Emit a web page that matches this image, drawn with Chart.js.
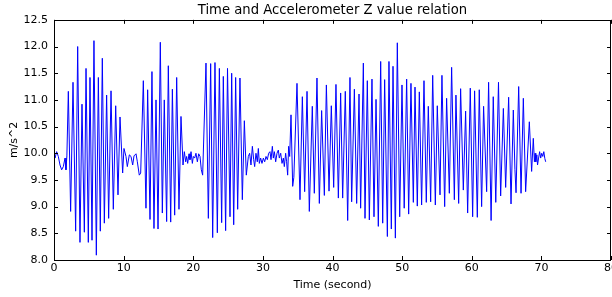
<!DOCTYPE html>
<html>
<head>
<meta charset="utf-8">
<script src="https://cdn.jsdelivr.net/npm/chart.js@4.4.1/dist/chart.umd.min.js"></script>
<style>
    html, body { margin: 0; padding: 0; background: #fff; overflow: hidden; }
    canvas { display: block; }
</style>
</head>
<body>
<canvas id="accelChart" width="612" height="297"></canvas>
<script>
// Time (s) and accelerometer Z (m/s^2)
const times = [
    0.00, 0.15, 0.38, 0.62, 0.86, 1.10, 1.34, 1.58, 1.72, 1.85,
    2.06, 2.39, 2.73, 3.11, 3.40, 3.73, 4.02, 4.36, 4.60, 4.93,
    5.17, 5.46, 5.74, 6.08, 6.37, 6.65, 6.94, 7.23, 7.56, 7.85,
    8.19, 8.52, 8.86, 9.19, 9.48, 9.86,
    10.05, 10.34, 10.53, 10.82, 11.06, 11.30, 11.49, 11.78, 11.97, 12.25, 12.45,
    12.83, 13.21, 13.45, 13.79, 14.07, 14.36, 14.65, 14.94, 15.27, 15.56,
    15.84, 16.18, 16.42, 16.76, 17.00, 17.33, 17.62, 17.95, 18.24, 18.53,
    18.72, 18.91, 19.05, 19.20, 19.39, 19.53, 19.68, 19.87, 20.01, 20.20,
    20.39, 20.59, 20.78, 20.97, 21.16, 21.35,
    21.83, 22.17, 22.50, 22.79, 23.12, 23.46, 23.75, 24.08, 24.32, 24.65,
    24.92, 25.28, 25.52, 25.81, 26.09, 26.38, 26.71, 27.05, 27.34, 27.62,
    27.91, 28.10, 28.29, 28.49, 28.68, 28.82, 29.01, 29.20, 29.35, 29.49,
    29.68, 29.87, 30.07, 30.26, 30.45, 30.64, 30.83, 31.02, 31.17, 31.36,
    31.50, 31.65, 31.84, 32.03, 32.22, 32.36, 32.56, 32.75, 32.94, 33.08,
    33.27, 33.41, 33.56, 33.70, 33.85,
    34.04, 34.28, 34.45, 34.90, 35.33, 35.67, 36.00, 36.34, 36.67, 37.10,
    37.39, 37.77, 38.11, 38.44, 38.83, 39.12, 39.50, 39.83, 40.17, 40.50,
    40.84, 41.17, 41.46, 41.84, 42.18, 42.51, 42.75, 43.14, 43.47, 43.81,
    44.04, 44.43, 44.67, 45.00, 45.29, 45.67, 45.96, 46.25, 46.58, 46.92,
    47.21, 47.49, 47.88, 48.11, 48.45, 48.69, 49.03, 49.31, 49.65, 49.98,
    50.30, 50.65, 50.94, 51.27, 51.61, 51.85, 52.18, 52.47, 52.80, 53.14,
    53.47, 53.76, 54.10, 54.39, 54.77, 55.05, 55.44, 55.72, 56.11, 56.39,
    56.78, 57.11, 57.50, 57.73, 58.12, 58.40, 58.79, 59.12, 59.41, 59.79,
    60.13, 60.41, 60.80, 61.08, 61.42, 61.70, 62.14, 62.42, 62.78, 63.09,
    63.45, 63.84, 64.15, 64.54, 64.87, 65.30, 65.64, 65.97, 66.20, 66.36,
    66.74, 67.08, 67.41, 67.74, 68.27, 68.60, 68.84,
    69.00, 69.10, 69.20, 69.35, 69.45, 69.60, 69.75, 69.90, 70.05, 70.20,
    70.35, 70.50, 70.62
];

const accelZ = [
    10.00, 9.91, 10.03, 9.94, 9.78, 9.69, 9.75, 9.91, 9.69, 9.95,
    11.16, 8.91, 11.33, 8.54, 12.00, 8.33, 10.92, 8.52, 11.59, 8.33,
    11.42, 8.37, 12.11, 8.09, 11.42, 8.54, 11.78, 8.69, 11.09, 8.78,
    11.17, 8.95, 10.89, 9.22, 10.68, 9.63,
    10.09, 9.94, 9.75, 9.97, 9.94, 9.78, 9.95, 9.99, 9.84, 9.59, 9.63,
    11.36, 8.97, 11.19, 8.76, 11.53, 8.59, 11.00, 8.58, 12.08, 8.88,
    11.00, 8.72, 11.64, 8.71, 11.20, 8.84, 11.42, 8.95, 10.69, 9.78,
    10.03, 9.84, 9.94, 9.81, 9.99, 9.88, 10.03, 9.81, 9.94, 9.91,
    10.00, 9.84, 9.99, 9.94, 9.69, 9.59,
    11.69, 8.78, 11.68, 8.42, 11.70, 8.51, 11.59, 8.70, 11.44, 8.55,
    11.59, 8.81, 11.50, 8.66, 11.42, 8.95, 11.41, 9.13, 10.61, 9.59,
    9.94, 10.00, 9.78, 10.13, 9.88, 9.75, 10.00, 9.84, 10.09, 9.81,
    9.91, 9.81, 9.91, 9.84, 9.94, 9.88, 10.00, 10.03, 9.88, 10.13,
    9.91, 10.03, 9.84, 10.00, 10.06, 9.91, 10.00, 9.81, 9.91, 9.75,
    10.00, 9.84, 9.59, 10.13, 9.94,
    10.72, 9.38, 9.55, 11.31, 9.13, 11.06, 9.28, 11.16, 8.91, 10.88,
    9.25, 11.41, 9.06, 10.80, 9.21, 11.28, 9.29, 10.89, 9.36, 11.29,
    9.16, 11.13, 9.16, 11.16, 8.74, 11.42, 9.09, 11.20, 9.06, 11.11,
    8.97, 11.69, 8.78, 11.36, 8.75, 11.39, 8.81, 11.01, 8.63, 11.72,
    8.69, 11.38, 8.44, 11.72, 8.58, 11.63, 8.41, 12.07, 8.81, 11.28,
    8.97, 11.39, 8.86, 11.31, 9.08, 11.24, 9.01, 11.15, 9.03, 11.36,
    9.08, 10.88, 9.09, 11.46, 9.03, 10.89, 9.22, 11.46, 9.00, 11.03,
    9.25, 11.61, 9.13, 11.09, 9.06, 11.21, 9.31, 10.79, 8.88, 11.22,
    8.81, 11.17, 8.80, 11.19, 9.00, 10.88, 9.28, 11.33, 8.74, 11.06,
    9.08, 11.33, 9.20, 10.84, 9.36, 11.05, 9.05, 10.81, 9.70, 9.26,
    11.25, 9.25, 11.03, 9.28, 10.59, 9.66, 10.28,
    9.84, 10.00, 9.84, 9.97, 9.78, 9.91, 10.03, 9.91, 10.00, 9.94,
    10.03, 9.90, 9.84
];

const xTicks = [0, 10, 20, 30, 40, 50, 60, 70, 80];
const yTicks = [8.0, 8.5, 9.0, 9.5, 10.0, 10.5, 11.0, 11.5, 12.0, 12.5];

const FONT = 'DejaVu Sans';

// matplotlib-style frame: full box plus inward ticks on every side
const framePlugin = {
    id: 'frame',
    afterDraw(chart) {
        const { ctx, chartArea: a, scales } = chart;
        ctx.save();
        ctx.strokeStyle = '#000';
        ctx.lineWidth = 1;
        ctx.strokeRect(Math.round(a.left) + 0.5, Math.round(a.top) + 0.5,
            Math.round(a.right - a.left) - 1, Math.round(a.bottom - a.top));
        ctx.beginPath();
        xTicks.forEach(v => {
            const x = Math.round(scales.x.getPixelForValue(v)) + 0.5;
            ctx.moveTo(x, a.bottom); ctx.lineTo(x, a.bottom - 4);
            ctx.moveTo(x, a.top); ctx.lineTo(x, a.top + 4);
        });
        yTicks.forEach(v => {
            const y = Math.round(scales.y.getPixelForValue(v)) + 0.5;
            ctx.moveTo(a.left, y); ctx.lineTo(a.left + 4, y);
            ctx.moveTo(a.right, y); ctx.lineTo(a.right - 4, y);
        });
        ctx.stroke();
        ctx.restore();
    }
};

const ctx = document.getElementById('accelChart').getContext('2d');
new Chart(ctx, {
    type: 'line',
    data: {
        datasets: [{
            label: 'Accelerometer Z',
            data: times.map((t, i) => ({ x: t, y: accelZ[i] })),
            borderColor: '#0000ff',
            borderWidth: 1,
            pointRadius: 0,
            tension: 0,
            fill: false
        }]
    },
    options: {
        responsive: false,
        animation: false,
        devicePixelRatio: 1,
        layout: { padding: { left: 0, right: 1, top: 0, bottom: 0 } },
        plugins: {
            legend: { display: false },
            tooltip: { enabled: false },
            title: {
                display: true,
                fullSize: false,
                text: 'Time and Accelerometer Z value relation',
                color: '#000',
                font: { family: FONT, size: 13.2, weight: 'normal', lineHeight: 1.2 },
                padding: { top: 3, bottom: 1 }
            }
        },
        scales: {
            x: {
                type: 'linear',
                min: 0,
                max: 80,
                afterBuildTicks: scale => { scale.ticks = xTicks.map(v => ({ value: v })); },
                afterFit: scale => {
                    scale.height = 37;
                    scale.paddingLeft = 0;
                    scale.paddingRight = 0;
                },
                grid: { display: false, drawTicks: false },
                border: { display: false },
                ticks: {
                    color: '#000',
                    padding: 2,
                    maxRotation: 0,
                    font: { family: FONT, size: 11 }
                },
                title: {
                    display: true,
                    text: 'Time (second)',
                    color: '#000',
                    font: { family: FONT, size: 11 },
                    padding: { top: 2, bottom: 5 }
                }
            },
            y: {
                type: 'linear',
                min: 8,
                max: 12.5,
                afterBuildTicks: scale => { scale.ticks = yTicks.map(v => ({ value: v })); },
                afterFit: scale => { scale.width = 54; },
                grid: { display: false, drawTicks: false },
                border: { display: false },
                ticks: {
                    color: '#000',
                    padding: 6,
                    font: { family: FONT, size: 11 },
                    callback: v => Number(v).toFixed(1)
                },
                title: {
                    display: true,
                    text: 'm/s^2',
                    color: '#000',
                    font: { family: FONT, size: 11 },
                    padding: { top: 8, bottom: 0 }
                }
            }
        }
    },
    plugins: [framePlugin]
});
</script>
</body>
</html>
